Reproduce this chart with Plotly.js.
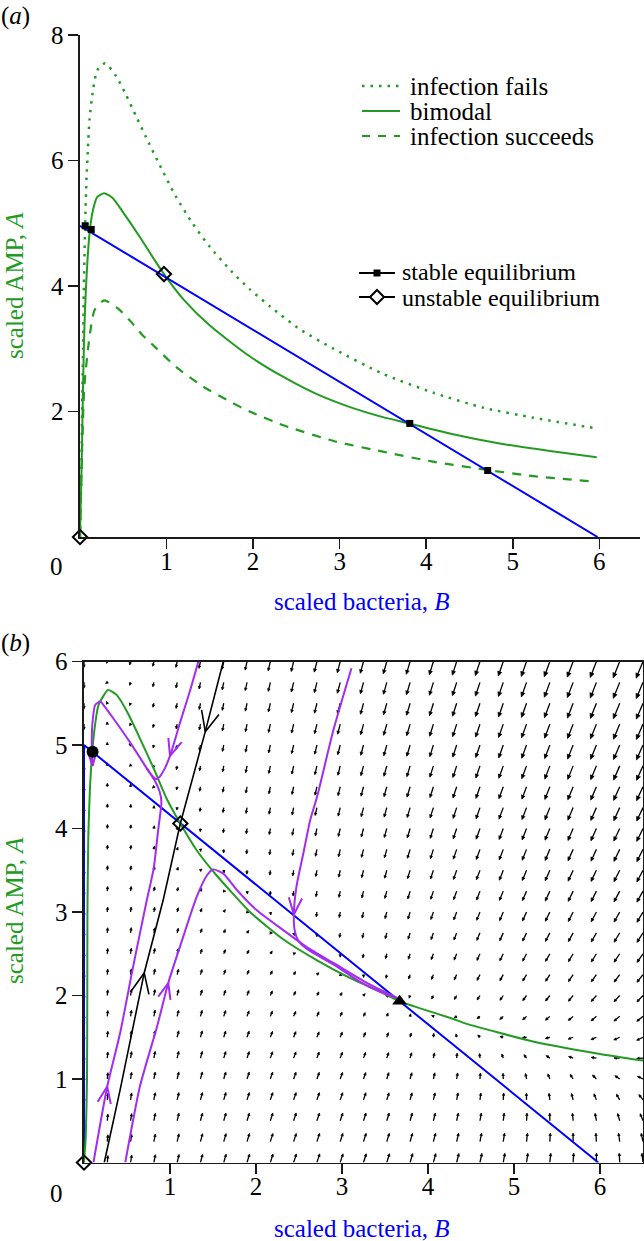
<!DOCTYPE html>
<html>
<head>
<meta charset="utf-8">
<script src="https://cdn.plot.ly/plotly-3.0.1.min.js"></script>
<style>html,body{margin:0;padding:0;background:#fff;}#chart{width:644px;height:1241px;}</style>
</head>
<body>
<div id="chart"></div>
<script>
// ---------------- Panel (a) data ----------------
const aBlueB = [0, 5.98];
const aBlueA = [4.96, 0];

const aFailsB = [0, 0.015, 0.025, 0.035, 0.045, 0.06, 0.075, 0.09, 0.11, 0.15, 0.20, 0.29, 0.42, 0.53, 0.65, 0.76, 0.92, 1.11, 1.30, 1.49, 1.76, 1.96, 2.20, 2.54, 2.93, 3.50, 4.08, 4.66, 5.24, 5.97];
const aFailsA = [0, 1.0, 2.0, 3.0, 4.0, 5.0, 5.7, 6.15, 6.65, 7.12, 7.44, 7.55, 7.34, 7.05, 6.70, 6.38, 5.93, 5.42, 5.00, 4.64, 4.22, 3.95, 3.67, 3.31, 3.00, 2.60, 2.30, 2.06, 1.90, 1.73];

const aBimodalB = [0, 0.02, 0.035, 0.05, 0.07, 0.11, 0.15, 0.20, 0.28, 0.38, 0.49, 0.61, 0.72, 0.84, 0.97, 1.20, 1.50, 1.96, 2.35, 2.73, 3.12, 3.50, 3.80, 4.27, 4.85, 5.43, 5.97];
const aBimodalA = [0, 1.2, 2.4, 3.3, 4.0, 4.84, 5.21, 5.42, 5.48, 5.40, 5.19, 4.95, 4.72, 4.46, 4.19, 3.78, 3.37, 2.88, 2.55, 2.28, 2.07, 1.91, 1.81, 1.65, 1.49, 1.37, 1.27];

const aSucceedsB = [0, 0.02, 0.05, 0.11, 0.17, 0.28, 0.44, 0.59, 0.72, 0.88, 1.11, 1.42, 1.73, 1.96, 2.35, 2.93, 3.50, 4.08, 4.70, 5.24, 5.97];
const aSucceedsA = [0, 1.2, 2.40, 3.19, 3.62, 3.77, 3.64, 3.43, 3.22, 3.01, 2.71, 2.40, 2.16, 2.00, 1.78, 1.53, 1.36, 1.20, 1.07, 0.97, 0.88];

const aStableB = [0.06, 0.13, 3.81, 4.71];
const aStableA = [4.96, 4.90, 1.81, 1.06];
const aUnstableB = [0, 0.97];
const aUnstableA = [0, 4.19];

const aLegend1 = ['infection fails', 'bimodal', 'infection succeeds'];
const aLegend2 = ['stable equilibrium', 'unstable equilibrium'];

const aXTicks = [1, 2, 3, 4, 5, 6];
const aYTicks = [2, 4, 6, 8];
const bXTicks = [1, 2, 3, 4, 5, 6];
const bYTicks = [1, 2, 3, 4, 5, 6];

// ---------------- Panel (b) data ----------------
const bBlueB = [0, 0, 5.98];
const bBlueA = [0, 5.0, 0];

const bGreenB = [0, 0.02, 0.035, 0.038, 0.04, 0.05, 0.07, 0.11, 0.17, 0.28, 0.38, 0.50, 0.65, 0.81, 0.96, 1.12, 1.31, 1.54, 1.93, 2.32, 2.71, 3.09, 3.48, 3.67, 4.26, 4.45, 5.22, 6.0, 6.5];
const bGreenA = [0, 0.3, 1.0, 2.0, 3.0, 3.9, 4.5, 5.08, 5.48, 5.66, 5.60, 5.40, 5.08, 4.72, 4.36, 4.06, 3.74, 3.44, 3.00, 2.67, 2.42, 2.21, 2.03, 1.93, 1.73, 1.66, 1.45, 1.30, 1.22];

const sepLowB = [0.236, 0.42, 0.70, 0.92, 1.12];
const sepLowA = [0, 0.87, 2.27, 3.14, 4.06];
const sepUpB = [1.62, 1.41, 1.12];
const sepUpA = [6.0, 5.16, 4.06];

const traj1B = [0.11, 0.27, 0.42, 0.57, 0.73, 0.81, 0.86, 0.90, 0.88, 0.83, 0.73, 0.53, 0.34, 0.24, 0.19, 0.13, 0.10, 0.09, 0.10];
const traj1A = [0, 0.91, 1.55, 2.34, 3.14, 3.52, 3.96, 4.32, 4.44, 4.56, 4.72, 5.04, 5.32, 5.46, 5.52, 5.48, 5.28, 5.04, 4.75];
const traj2B = [1.33, 1.23, 1.12, 1.04, 1.0, 0.94, 0.88, 0.84, 0.77, 0.73];
const traj2A = [6.0, 5.64, 5.28, 5.0, 4.87, 4.72, 4.62, 4.59, 4.66, 4.72];
const traj3B = [0.48, 0.65, 0.85, 0.98, 1.14, 1.31, 1.43, 1.50, 1.62, 1.78, 2.01, 2.32, 2.59, 2.90, 3.29, 3.64];
const traj3A = [0, 0.91, 1.63, 2.15, 2.66, 3.18, 3.44, 3.51, 3.46, 3.26, 3.02, 2.78, 2.58, 2.39, 2.15, 1.97];
const traj4B = [3.11, 2.90, 2.71, 2.63, 2.55, 2.47, 2.44, 2.45, 2.49, 2.59, 2.75, 2.95, 3.20, 3.45, 3.64];
const traj4A = [5.92, 5.18, 4.38, 4.10, 3.70, 3.30, 2.97, 2.78, 2.66, 2.56, 2.46, 2.34, 2.17, 2.04, 1.97];

const bStableB = [0.10, 3.67];
const bStableA = [4.92, 1.93];
const bSaddleB = [0, 1.12];
const bSaddleA = [0, 4.06];

// quiver grid (tail positions) of the direction field
const qB = [0, 0.2708, 0.5417, 0.8125, 1.0833, 1.3542, 1.625, 1.8958, 2.1667, 2.4375, 2.7083, 2.9792, 3.25, 3.5208, 3.7917, 4.0625, 4.3333, 4.6042, 4.875, 5.1458, 5.4167, 5.6875, 5.9583, 6.2292, 6.5];
const qA = [0, 0.25, 0.5, 0.75, 1, 1.25, 1.5, 1.75, 2, 2.25, 2.5, 2.75, 3, 3.25, 3.5, 3.75, 4, 4.25, 4.5, 4.75, 5, 5.25, 5.5, 5.75, 6];
// model parameters of the direction field, taken from the drawn nullclines
const nullB0 = 5.0, nullBK = 5.98, kappa = 0.32, prodG = 9.43, nullD = 1.226, halfSat = 0.03, decay0 = 0.5;

// ---------------- geometry / style ----------------
const W = 644, H = 1241;
const SERIF = '"Liberation Serif", "Times New Roman", Times, serif';
const FS = 25;
const GREEN = '#239b23', BLUE = '#0000ff', PURPLE = '#a22cf0';
const px = v => v / W, py = v => 1 - v / H;

const aDom = {x: [80, 640], y: [537, 35], xr: [0, 6.47], yr: [0, 8]};
const bDom = {x: [84, 643], y: [1162.5, 661.5], xr: [0, 6.5], yr: [0, 6]};
const bsx = (bDom.x[1] - bDom.x[0]) / (bDom.xr[1] - bDom.xr[0]);
const bsy = (bDom.y[0] - bDom.y[1]) / (bDom.yr[1] - bDom.yr[0]);

function headPts(tipB, tipA, fromB, fromA, len, half) {
  let dx = (tipB - fromB) * bsx, dy = (tipA - fromA) * bsy;
  const n = Math.hypot(dx, dy) || 1; dx /= n; dy /= n;
  const bx = -dx, by = -dy;
  const pts = [];
  for (const s of [1, -1]) {
    const c = Math.cos(s * half), sn = Math.sin(s * half);
    const rx = bx * c - by * sn, ry = bx * sn + by * c;
    pts.push([tipB + rx * len / bsx, tipA + ry * len / bsy]);
  }
  return {x: [pts[0][0], tipB, pts[1][0], null], y: [pts[0][1], tipA, pts[1][1], null]};
}

// quiver (direction field)
const shaft = {x: [], y: []}, heads = {x: [], y: []};
(function () {
  const field = [];
  let maxM = 0;
  for (const B of qB) for (const A of qA) {
    const G = prodG / (nullD + B) * B / (halfSat + B);
    const u = kappa * B * (nullB0 * (1 - B / nullBK) - A);
    const v = (decay0 + B) * (G - A);
    const m = Math.hypot(u, v);
    maxM = Math.max(maxM, m);
    field.push([B, A, u, v, m]);
  }
  const Lmax = 18, pw = 0.45;
  for (const [B, A, u, v, m] of field) {
    if (m === 0) continue;
    const L = Math.max(2, Lmax * Math.pow(m / maxM, pw));
    let dx = u * bsx, dy = v * bsy; const n = Math.hypot(dx, dy); dx /= n; dy /= n;
    const tB = B + dx * L / bsx, tA = A + dy * L / bsy;
    const hl = Math.min(Math.max(3, 0.34 * L), 5.5);
    const sB = B + dx * (L - hl * 0.6) / bsx, sA = A + dy * (L - hl * 0.6) / bsy;
    shaft.x.push(B, sB, null); shaft.y.push(A, sA, null);
    const h = headPts(tB, tA, B, A, hl, 0.42);
    heads.x.push(...h.x); heads.y.push(...h.y);
  }
})();

function headsTrace(list, color, width) {
  const x = [], y = [];
  for (const [Bs, As, i, len, half] of list) {
    const h = headPts(Bs[i], As[i], Bs[i - 1], As[i - 1], len, half);
    x.push(...h.x); y.push(...h.y);
  }
  return {x, y, xaxis: 'x2', yaxis: 'y2', mode: 'lines', line: {color, width}, hoverinfo: 'skip', showlegend: false};
}

const traces = [
  // panel (a)
  {x: aFailsB, y: aFailsA, mode: 'lines', line: {color: GREEN, width: 2.5, dash: '2.5px,6px', shape: 'spline', smoothing: 0.6}, name: aLegend1[0], hoverinfo: 'skip'},
  {x: aBimodalB, y: aBimodalA, mode: 'lines', line: {color: GREEN, width: 2, shape: 'spline', smoothing: 0.6}, name: aLegend1[1], hoverinfo: 'skip'},
  {x: aSucceedsB, y: aSucceedsA, mode: 'lines', line: {color: GREEN, width: 2.2, dash: '9px,8px', shape: 'spline', smoothing: 0.6}, name: aLegend1[2], hoverinfo: 'skip'},
  {x: aBlueB, y: aBlueA, mode: 'lines', line: {color: BLUE, width: 2}, hoverinfo: 'skip'},
  {x: aStableB, y: aStableA, mode: 'markers', marker: {symbol: 'square', size: 7, color: 'black'}, cliponaxis: false, name: aLegend2[0]},
  {x: aUnstableB, y: aUnstableA, mode: 'markers', marker: {symbol: 'diamond-open', size: 11, color: 'black', line: {width: 2, color: 'black'}}, cliponaxis: false, name: aLegend2[1]},
  // panel (b)
  {x: shaft.x, y: shaft.y, xaxis: 'x2', yaxis: 'y2', mode: 'lines', line: {color: 'black', width: 1.3}, hoverinfo: 'skip'},
  {x: heads.x, y: heads.y, xaxis: 'x2', yaxis: 'y2', mode: 'lines', fill: 'toself', fillcolor: 'black', line: {color: 'black', width: 0.8}, hoverinfo: 'skip'},
  {x: bBlueB, y: bBlueA, xaxis: 'x2', yaxis: 'y2', mode: 'lines', line: {color: BLUE, width: 2}, hoverinfo: 'skip'},
  {x: bGreenB, y: bGreenA, xaxis: 'x2', yaxis: 'y2', mode: 'lines', line: {color: GREEN, width: 2, shape: 'spline', smoothing: 0.5}, hoverinfo: 'skip'},
  {x: sepLowB, y: sepLowA, xaxis: 'x2', yaxis: 'y2', mode: 'lines', line: {color: 'black', width: 1.6}, hoverinfo: 'skip'},
  {x: sepUpB, y: sepUpA, xaxis: 'x2', yaxis: 'y2', mode: 'lines', line: {color: 'black', width: 1.6}, hoverinfo: 'skip'},
  headsTrace([[sepLowB, sepLowA, 2, 22, 0.42], [sepUpB, sepUpA, 1, 22, 0.42]], 'black', 1.6),
  {x: traj1B, y: traj1A, xaxis: 'x2', yaxis: 'y2', mode: 'lines', line: {color: PURPLE, width: 2, shape: 'spline', smoothing: 0.6}, hoverinfo: 'skip'},
  {x: traj2B, y: traj2A, xaxis: 'x2', yaxis: 'y2', mode: 'lines', line: {color: PURPLE, width: 2, shape: 'spline', smoothing: 0.6}, hoverinfo: 'skip'},
  {x: traj3B, y: traj3A, xaxis: 'x2', yaxis: 'y2', mode: 'lines', line: {color: PURPLE, width: 2, shape: 'spline', smoothing: 0.6}, hoverinfo: 'skip'},
  {x: traj4B, y: traj4A, xaxis: 'x2', yaxis: 'y2', mode: 'lines', line: {color: PURPLE, width: 2, shape: 'spline', smoothing: 0.6}, hoverinfo: 'skip'},
  headsTrace([[traj1B, traj1A, 1, 18, 0.38], [traj1B, traj1A, traj1B.length - 1, 14, 0.3], [traj2B, traj2A, 4, 18, 0.4], [traj3B, traj3A, 3, 17, 0.38], [traj4B, traj4A, 6, 18, 0.38]], PURPLE, 2),
  {x: bStableB.slice(0, 1), y: bStableA.slice(0, 1), xaxis: 'x2', yaxis: 'y2', mode: 'markers', marker: {symbol: 'circle', size: 12, color: 'black'}, cliponaxis: false, hoverinfo: 'skip'},
  {x: bStableB.slice(1), y: bStableA.slice(1), xaxis: 'x2', yaxis: 'y2', mode: 'markers', marker: {symbol: 'triangle-up', size: 13, color: 'black'}, cliponaxis: false, hoverinfo: 'skip'},
  {x: bSaddleB, y: bSaddleA, xaxis: 'x2', yaxis: 'y2', mode: 'markers', marker: {symbol: 'diamond-open', size: 11, color: 'black', line: {width: 2, color: 'black'}}, cliponaxis: false, hoverinfo: 'skip'}
];

function axis(dom, xy, ticks, anchor, mirror, standoff) {
  const d = xy === 'x' ? [px(dom.x[0]), px(dom.x[1])] : [py(dom.y[0]), py(dom.y[1])];
  return {
    domain: d, range: xy === 'x' ? dom.xr : dom.yr, anchor, mirror,
    showline: true, linecolor: '#1a1a1a', linewidth: 1.6,
    ticks: 'outside', ticklen: 10, tickwidth: 1.5, tickcolor: '#1a1a1a',
    tickvals: ticks, ticktext: ticks.map(String), ticklabelstandoff: standoff,
    tickfont: {family: SERIF, size: FS, color: 'black'},
    showgrid: false, zeroline: false, fixedrange: true
  };
}

const ann = (x, y, text, opt = {}) => Object.assign({xref: 'paper', yref: 'paper', x: px(x), y: py(y), text, showarrow: false, xanchor: 'center', yanchor: 'middle', font: {family: SERIF, size: FS, color: 'black'}}, opt);
const LEG2 = {family: SERIF, size: 24, color: 'black'};

const annotations = [
  ann(15, 16, '(<i>a</i>)'),
  ann(15, 643, '(<i>b</i>)'),
  ann(56, 566, '0'),
  ann(56, 1193, '0'),
  ann(14, 286, 'scaled AMP, <i>A</i>', {textangle: -90, font: {family: SERIF, size: FS, color: GREEN}}),
  ann(14, 911, 'scaled AMP, <i>A</i>', {textangle: -90, font: {family: SERIF, size: FS, color: GREEN}}),
  ann(362, 602, 'scaled bacteria, <i>B</i>', {font: {family: SERIF, size: FS, color: BLUE}}),
  ann(362, 1228, 'scaled bacteria, <i>B</i>', {font: {family: SERIF, size: FS, color: BLUE}}),
  ann(408, 86, aLegend1[0], {xanchor: 'left'}),
  ann(408, 111, aLegend1[1], {xanchor: 'left'}),
  ann(408, 136, aLegend1[2], {xanchor: 'left'}),
  ann(400, 272, aLegend2[0], {xanchor: 'left', font: LEG2}),
  ann(400, 298, aLegend2[1], {xanchor: 'left', font: LEG2})
];

const lineShape = (x0, x1, y, color, dash, width) => ({type: 'line', xref: 'paper', yref: 'paper', x0: px(x0), x1: px(x1), y0: py(y), y1: py(y), line: {color, width, dash}});
const shapes = [
  lineShape(362, 400, 86, GREEN, '2.5px,6px', 2.5),
  lineShape(362, 400, 111, GREEN, 'solid', 2),
  lineShape(362, 400, 136, GREEN, '8px,8px', 2.2),
  lineShape(359, 395, 273, 'black', 'solid', 2),
  lineShape(359, 395, 297, 'black', 'solid', 2),
  {type: 'rect', xref: 'paper', yref: 'paper', x0: px(373.5), x1: px(380.5), y0: py(276.5), y1: py(269.5), fillcolor: 'black', line: {width: 0}},
  {type: 'path', xref: 'paper', yref: 'paper', path: `M ${px(377)} ${py(290)} L ${px(384)} ${py(297)} L ${px(377)} ${py(304)} L ${px(370)} ${py(297)} Z`, fillcolor: 'white', line: {color: 'black', width: 2}}
];

const layout = {
  width: W, height: H, margin: {l: 0, r: 0, t: 0, b: 0},
  paper_bgcolor: 'white', plot_bgcolor: 'rgba(0,0,0,0)',
  showlegend: false, hovermode: false,
  font: {family: SERIF, size: FS, color: 'black'},
  xaxis: axis(aDom, 'x', aXTicks, 'y', false, -9),
  yaxis: axis(aDom, 'y', aYTicks, 'x', false, 0),
  xaxis2: axis(bDom, 'x', bXTicks, 'y2', true, -9),
  yaxis2: axis(bDom, 'y', bYTicks, 'x2', true, 0),
  annotations, shapes
};

Plotly.newPlot('chart', traces, layout, {staticPlot: true, displayModeBar: false});
</script>
</body>
</html>
